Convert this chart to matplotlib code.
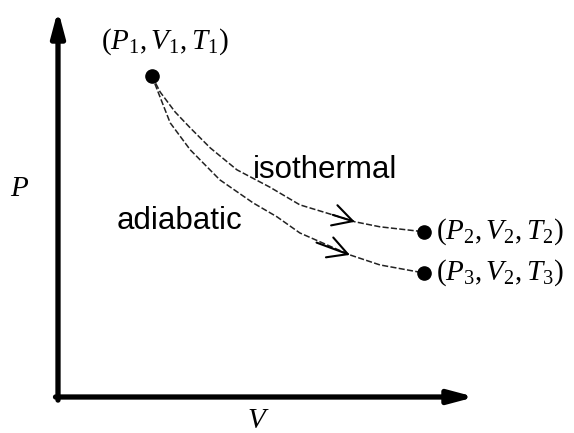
import numpy as np
import matplotlib
matplotlib.use("Agg")
import matplotlib.pyplot as plt

plt.rcParams["mathtext.fontset"] = "custom"
plt.rcParams["mathtext.rm"] = "Liberation Serif"
plt.rcParams["mathtext.it"] = "Liberation Serif:italic"

# states (V, P) in arbitrary units
state_v = [2.25, 8.78, 8.78]
state_p = [8.34, 4.29, 3.22]
state_labels = [r"$(P_{\mathit{1}},V_{\mathit{1}},T_{\mathit{1}})$",
                r"$(P_{\mathit{2}},V_{\mathit{2}},T_{\mathit{2}})$",
                r"$(P_{\mathit{3}},V_{\mathit{2}},T_{\mathit{3}})$"]

# paths
iso_v = [2.25, 2.45, 2.81, 3.17, 3.65, 4.29, 5.08, 5.80, 6.59, 7.12, 7.72, 8.78]
iso_p = [8.34, 7.92, 7.40, 6.99, 6.47, 5.90, 5.45, 4.99, 4.73, 4.55, 4.42, 4.29]
adi_v = [2.25, 2.40, 2.69, 3.17, 3.88, 4.68, 5.25, 5.80, 7.00, 7.72, 8.78]
adi_p = [8.34, 7.92, 7.12, 6.42, 5.64, 5.04, 4.68, 4.26, 3.69, 3.43, 3.22]
iso_arrow_at = 9
adi_arrow_at = 8


def main():
    fig = plt.figure(figsize=(5.74, 4.33), dpi=100)
    ax = fig.add_axes([58 / 574, 36 / 433, 417 / 574, 387 / 433])
    ax.set_xlim(0, 10)
    ax.set_ylim(0, 10.05)
    ax.axis("off")
    ax.patch.set_alpha(0)

    # axes as thick arrows
    arrow = dict(arrowstyle="-|>,head_length=0.75,head_width=0.2", lw=3.8,
                 color="black", mutation_scale=20, shrinkA=0, shrinkB=0)
    ax.annotate("", xy=(0, 1), xytext=(0, -0.008), xycoords="axes fraction",
                arrowprops=arrow, annotation_clip=False)
    ax.annotate("", xy=(1, 0), xytext=(-0.006, 0), xycoords="axes fraction",
                arrowprops=arrow, annotation_clip=False)

    style = dict(color="#222222", lw=1.1, ls=(0, (4, 1.5)))
    ax.plot(iso_v, iso_p, **style)
    ax.plot(adi_v, adi_p, **style)

    # open chevron arrows along the paths
    head = dict(arrowstyle="->,head_length=0.7,head_width=0.38", lw=1.5,
                color="black", mutation_scale=20, shrinkA=0, shrinkB=0)
    i = iso_arrow_at
    ax.annotate("", xy=(iso_v[i], iso_p[i]), xytext=(iso_v[i - 1], iso_p[i - 1]),
                arrowprops=head)
    i = adi_arrow_at
    ax.annotate("", xy=(adi_v[i], adi_p[i]),
                xytext=(adi_v[i] - 0.8, adi_p[i] + 0.32), arrowprops=head)

    ax.plot(state_v, state_p, "o", color="black", ms=9.5, clip_on=False)

    ax.text(state_v[0] + 0.32, state_p[0] + 0.88, state_labels[0],
            fontsize=21, ha="center", va="center")
    for v, p, lab in zip(state_v[1:], state_p[1:], state_labels[1:]):
        ax.text(v + 0.28, p, lab, fontsize=21, ha="left", va="center")

    ax.text(4.68, 5.69, "isothermal", family="Liberation Sans", fontsize=22.5,
            ha="left", va="baseline")
    ax.text(1.41, 4.36, "adiabatic", family="Liberation Sans", fontsize=22.5,
            ha="left", va="baseline")

    ax.text(-0.91, 5.43, r"$P$", fontsize=21, ha="center", va="center")
    ax.text(4.8, -0.6, r"$V$", fontsize=21, ha="center", va="center")

    fig.savefig("out.png", dpi=100)


if __name__ == "__main__":
    main()
